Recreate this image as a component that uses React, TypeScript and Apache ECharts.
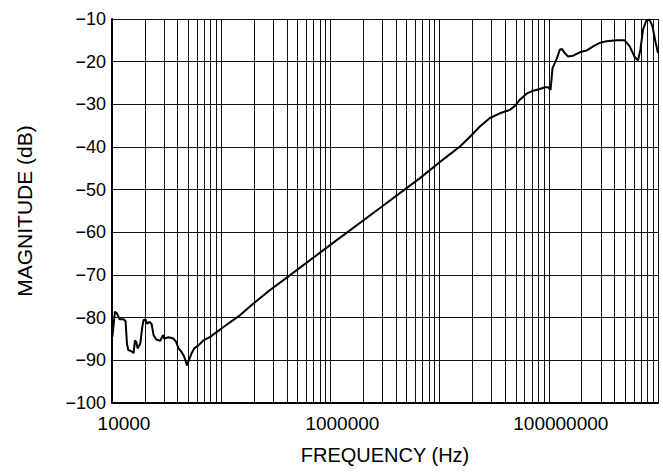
import React, { useEffect, useRef } from "react";
import * as echarts from "echarts";

const freqHz = [
  10070, 10650, 11110, 11740, 12770, 13310, 13710, 14090, 14920, 15770, 16230, 16680, 17140, 18150,
  18930, 19450, 20290, 20890, 22070, 23020, 24030, 25430, 27660, 29290, 30090, 32940, 36580, 38710,
  40650, 42760, 45150, 47110, 48530, 50600, 53480, 56580, 61940, 68850, 79300, 104900, 149200, 197400,
  280500, 371400, 993000, 2846000, 6607000, 11190000, 15350000, 18960000, 23390000, 28890000,
  35650000, 44000000, 48900000, 54300000, 62500000, 71900000, 82800000, 92000000, 98600000,
  103700000, 108200000, 117800000, 126200000, 131600000, 140200000, 150300000, 166800000, 192200000,
  221400000, 254300000, 292900000, 337300000, 416000000, 495500000, 550700000, 612000000, 656100000,
  690000000, 729000000, 783000000, 839000000, 889000000, 953000000, 1000000000,
];

const magnitudeDb = [
  -84.5, -78.6, -79.0, -80.4, -80.4, -80.8, -86.1, -87.6, -87.8, -88.3, -85.3, -85.7, -87.2, -86.1,
  -82.2, -80.6, -80.4, -81.4, -81.0, -81.4, -84.1, -85.1, -85.4, -84.1, -84.9, -84.6, -84.9, -85.7,
  -87.2, -87.8, -88.8, -90.0, -91.2, -90.0, -88.4, -87.2, -86.5, -85.3, -84.5, -82.2, -79.4, -76.7,
  -73.5, -71.2, -63.0, -54.3, -47.3, -42.6, -39.9, -37.6, -35.2, -33.2, -32.1, -31.3, -30.4, -28.9,
  -27.5, -26.8, -26.4, -26.0, -26.0, -26.6, -21.5, -19.4, -17.2, -17.0, -18.0, -18.8, -18.6, -17.8,
  -17.4, -16.4, -15.6, -15.2, -15.0, -15.0, -16.4, -18.9, -19.7, -17.2, -12.5, -10.3, -10.2, -11.7,
  -15.6, -18.0,
];

const xMin = 10000;
const xMax = 1000000000;
const xTickLabels = [10000, 1000000, 100000000];
const decadeStarts = [10000, 100000, 1000000, 10000000, 100000000];
const minorMultipliers = [2, 3, 4, 5, 6, 7, 8, 9];
const yMin = -100;
const yMax = -10;
const yStep = 10;

const FONT = "'Liberation Sans', Arial, Helvetica, sans-serif";

export default function App() {
  const ref = useRef<HTMLDivElement>(null);

  useEffect(() => {
    if (!ref.current) return;
    const chart = echarts.init(ref.current, null, { renderer: "svg" });

    const minorLines: any[] = [];
    decadeStarts.forEach((d) => {
      minorMultipliers.forEach((m) => minorLines.push({ xAxis: d * m }));
    });

    const data = freqHz.map((f, i) => [f, magnitudeDb[i]]);

    chart.setOption({
      animation: false,
      grid: { left: 112, right: 5, top: 19, bottom: 70, containLabel: false },
      xAxis: {
        type: "log",
        logBase: 10,
        min: xMin,
        max: xMax,
        splitNumber: 5,
        name: "FREQUENCY (Hz)",
        nameLocation: "middle",
        nameGap: 42,
        nameTextStyle: { fontFamily: FONT, fontSize: 20, color: "#000" },
        axisLine: { show: true, lineStyle: { color: "#000", width: 2 } },
        axisTick: { show: false },
        splitLine: { show: true, lineStyle: { color: "#111", width: 1 } },
        axisLabel: {
          fontFamily: FONT,
          fontSize: 19,
          color: "#000",
          margin: 11,
          padding: [0, 0, 0, 24],
          showMinLabel: true,
          showMaxLabel: true,
          formatter: (v: number) => {
            const hit = xTickLabels.find((t) => Math.abs(Math.log10(v) - Math.log10(t)) < 1e-6);
            return hit !== undefined ? String(hit) : "";
          },
        },
      },
      yAxis: {
        type: "value",
        min: yMin,
        max: yMax,
        interval: yStep,
        name: "MAGNITUDE (dB)",
        nameLocation: "middle",
        nameGap: 77,
        nameRotate: 90,
        nameTextStyle: { fontFamily: FONT, fontSize: 21, color: "#000" },
        axisLine: { show: true, lineStyle: { color: "#000", width: 2 } },
        axisTick: { show: false },
        splitLine: { show: true, lineStyle: { color: "#111", width: 1 } },
        axisLabel: {
          fontFamily: FONT,
          fontSize: 18,
          color: "#000",
          margin: 6,
          formatter: (v: number) => (v < 0 ? "\u2212" + Math.abs(v) : String(v)),
        },
      },
      series: [
        {
          type: "line",
          data,
          showSymbol: false,
          symbol: "none",
          lineStyle: { color: "#000", width: 2 },
          z: 5,
          markLine: {
            silent: true,
            symbol: ["none", "none"],
            label: { show: false },
            lineStyle: { color: "#111", width: 1, type: "solid" },
            emphasis: { disabled: true },
            data: minorLines,
            z: 1,
          },
        },
      ],
    });

    return () => chart.dispose();
  }, []);

  return (
    <div
      ref={ref}
      style={{ position: "absolute", left: 0, top: 0, width: 663, height: 473, background: "#fff" }}
    />
  );
}
